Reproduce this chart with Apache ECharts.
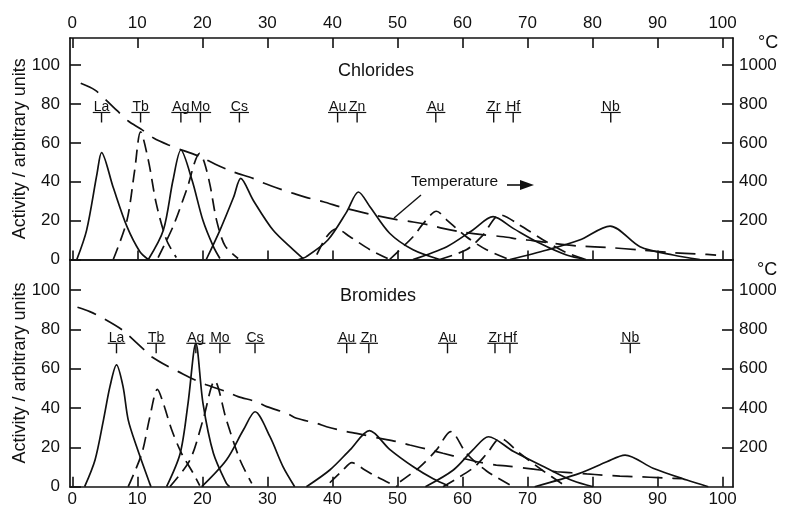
<!DOCTYPE html>
<html><head><meta charset="utf-8">
<script src="https://cdn.jsdelivr.net/npm/echarts@6/dist/echarts.min.js"></script>
<style>html,body{margin:0;padding:0;background:#fff}#c{width:785px;height:510px}</style>
</head><body><div id="c"></div>
<script>
// ---------- tick labels ----------
const xTicks = [0, 10, 20, 30, 40, 50, 60, 70, 80, 90, 100];
const yTicks = [0, 20, 40, 60, 80, 100];
const tTicks = [200, 400, 600, 800, 1000];

// ---------- element labels ----------
const clNames = ['La','Tb','Ag','Mo','Cs','Au','Zn','Au','Zr','Hf','Nb'];
const clNameX = [4.5,10.5,16.7,19.7,25.7,40.8,43.8,55.9,64.8,67.8,82.8];
const brNames = ['La','Tb','Ag','Mo','Cs','Au','Zn','Au','Zr','Hf','Nb'];
const brNameX = [6.8,12.9,19.0,22.7,28.1,42.2,45.6,57.7,65.0,67.3,85.8];

// ---------- Chlorides (top) ----------
const clLa = [[0.7,0],[2.2,15],[3.8,44],[4.5,55],[6.3,37],[8.4,17],[10.4,4],[11.7,0]];
const clTb = [[6.3,0],[8.4,20],[9.6,46],[10.5,65.7],[11.7,51],[12.9,29],[14.5,10],[16,1]];
const clAg = [[11.7,0],[14,15],[15.5,41],[16.7,56.3],[18.4,41],[20.1,20],[21.7,6.6],[22.7,0.5]];
const clMo = [[13.2,1],[15.5,17],[17.6,36],[19.6,54.6],[20.3,50],[21.2,38],[22.2,20],[23.5,7],[25.5,0.5]];
const clCs = [[20.6,0],[22.7,15],[24.8,32],[25.9,41.7],[27.8,30.6],[30.9,15],[34,5],[35.5,0.5]];
const clAu1 = [[37.6,2.5],[39.1,11.7],[40.6,15.8],[42.7,11.7],[45.8,5],[48.5,0.5]];
const clZn = [[34.8,0],[36,1.5],[39.3,10],[42.2,24.5],[44,34.7],[45.8,27],[48.8,13.5],[52.4,5],[56.5,0]];
const clAu2 = [[48.8,0],[52.4,11.7],[54,18.6],[56,24.8],[57.6,20.3],[60.6,11.7],[63.7,5],[66.8,0.5]];
const clZr = [[52.4,0],[57.6,6.6],[61.6,15.2],[64.7,22],[67.8,16],[71.9,8.3],[76,2.3],[79,0]];
const clHf = [[56.5,0],[60.6,5],[63,12],[65.8,22.9],[68.8,17.7],[72.9,9.1],[76,3.5],[79,0]];
const clNb = [[67.3,0],[73,4.9],[78,10],[82.7,17.2],[87.3,6.6],[92.4,2.3],[96.5,0]];
const clTemp = [[1.3,906],[3.5,871],[5.2,820],[6.9,765],[8.6,712],[10.7,668],[12.5,625],[14.8,589],[17.1,560],[19.6,530],[22,490],[24.7,451],[27.8,417],[29.3,395],[32.4,357],[34,340],[37,310],[38.6,297],[41.5,268],[43.2,254],[46.3,229],[49.9,205],[52.4,193],[55,177],[57,160],[59.6,143],[63,128],[66.3,117],[68.8,104],[70.8,97],[73.9,83],[78,69],[82.7,61],[87.3,49],[91.9,36],[96.5,28],[99,23]];

// ---------- Bromides (bottom) ----------
const brLa = [[1.9,0],[3.5,13.6],[4.8,34],[5.8,51],[6.8,61.9],[7.8,51],[8.6,34],[9.9,20.3],[11.9,1.7],[12.1,0]];
const brTb = [[8.6,0],[10.7,17],[11.9,35],[13.1,49.5],[14,42.4],[15.3,28.8],[16.8,17],[18.6,6.8],[19.6,0.5]];
const brAg = [[14.5,0],[16.6,17],[17.8,42.4],[19,73],[20.1,42.4],[21.7,17],[23.7,1.7],[24.2,0]];
const brMo = [[15,0],[18.1,13.6],[20.1,33.9],[21.9,53.8],[23.7,33.9],[25.8,13.6],[27.6,1.7]];
const brCs = [[19.9,0],[23.7,13.6],[26.3,28.8],[28.1,38.1],[30.4,25.4],[32.4,10.2],[34.2,0]];
const brZn = [[36,0],[39.6,8.5],[42.7,18.7],[45.7,28.5],[48.8,19],[52.5,10],[55.5,4],[57.8,0.5]];
const brAu1 = [[39.6,2],[41.5,8],[43,12.2],[45,8.5],[46.8,5.1],[49.3,1],[50,0]];
const brAu2 = [[50.4,2.5],[53.5,10.2],[56,18.7],[58.2,28],[60.6,17],[63.7,8],[67.8,0]];
const brZr = [[54.3,0],[58.6,8.5],[61.6,18.7],[64,25.4],[67.8,18],[72.9,9.5],[77,3],[80.1,0]];
const brHf = [[57,0],[61.6,9.4],[63.8,17],[65.8,24.6],[68.8,17],[72,9],[76,0]];
const brNb = [[71.1,0],[78,6.8],[82.2,12.7],[85,16.1],[89.3,9.4],[94.5,3.4],[97.8,0]];
const brTemp = [[0.8,912],[2.7,890],[5,851],[7.7,797],[8.6,771],[11.2,691],[12.2,661],[14.8,610],[16.3,585],[19.1,539],[20.7,517],[23.7,483],[25.5,458],[28.3,432],[29.9,407],[33,373],[34.5,348],[37.6,322],[39.1,305],[42.2,280],[43.7,271],[47.3,246],[49.9,229],[51.9,212],[55,187],[57,170],[60.1,144],[62.2,127],[65.2,110],[67,105],[69.9,93],[71.9,85],[74.5,76],[76.8,71],[79.1,65],[81.6,59],[84.2,54],[86.5,51],[88.8,48],[91.4,44],[93.7,41]];

// ---------- layout/styles ----------
const FONT = '"Liberation Sans", Arial, Helvetica, sans-serif';
const INK = '#111';
const PEAK_DASH = [13, 7];
const TEMP_DASH = [20, 10];
const LW = 1.7;

const grids = [
  {left: 70, right: 52, top: 38, height: 221.5},
  {left: 70, right: 52, top: 259.5, height: 227.2}
];
const yMaxTop = 113.9, yMaxBot = 115.5;

function xAx(grid, pos, showLabels, showTicks, tickLen) {
  return {
    type: 'value', gridIndex: grid, position: pos, min: -0.35, max: 101.6,
    axisLine: {show: true, onZero: false, lineStyle: {color: INK, width: 1.7}},
    axisTick: {show: showTicks, inside: true, length: tickLen, customValues: xTicks, lineStyle: {color: INK, width: 1.6}},
    axisLabel: {show: showLabels, customValues: xTicks, formatter: v => String(v), color: INK, fontSize: 17, fontFamily: FONT, margin: pos === 'top' ? 6 : 4},
    splitLine: {show: false}
  };
}
function yAx(grid, pos, max, ticks, name) {
  return {
    type: 'value', gridIndex: grid, position: pos, min: 0, max: max,
    name: name || '', nameLocation: 'middle', nameGap: 41, nameMoveOverlap: false,
    nameTextStyle: {color: INK, fontSize: 18, fontFamily: FONT},
    axisLine: {show: true, onZero: false, lineStyle: {color: INK, width: 1.7}},
    axisTick: {show: true, inside: true, length: 11, customValues: ticks, lineStyle: {color: INK, width: 1.6}},
    axisLabel: {show: true, customValues: ticks, formatter: v => String(v), color: INK, fontSize: 17, fontFamily: FONT, margin: pos === 'left' ? 10 : 6},
    splitLine: {show: false}
  };
}

function curve(data, dashed, xi, yi) {
  return {
    type: 'line', data: data, xAxisIndex: xi, yAxisIndex: yi, smooth: 0.3,
    showSymbol: false, symbol: 'none', silent: true, animation: false,
    lineStyle: {color: INK, width: LW, type: dashed ? PEAK_DASH : 'solid'}
  };
}
function temp(data, xi, yi) {
  return {
    type: 'line', data: data, xAxisIndex: xi, yAxisIndex: yi, smooth: 0.3,
    showSymbol: false, symbol: 'none', silent: true, animation: false,
    lineStyle: {color: INK, width: LW, type: TEMP_DASH}
  };
}

const measureCtx = document.createElement('canvas').getContext('2d');
measureCtx.font = '14px ' + FONT;
function labelSeries(xs, names, xi, yi, yLab) {
  return {
    type: 'custom', xAxisIndex: xi, yAxisIndex: yi, silent: true, animation: false,
    data: xs.map(v => [v]),
    renderItem: function (params, api) {
      const p = api.coord([api.value(0), yLab]);
      const name = names[params.dataIndex];
      const w = measureCtx.measureText(name).width;
      return {
        type: 'group',
        children: [
          {type: 'text', style: {text: name, x: p[0], y: p[1] + 2, align: 'center', verticalAlign: 'bottom', font: '14px ' + FONT, fill: INK}},
          {type: 'line', shape: {x1: p[0] - w / 2 - 1, y1: p[1], x2: p[0] + w / 2 + 1, y2: p[1]}, style: {stroke: INK, lineWidth: 1.2}},
          {type: 'line', shape: {x1: p[0], y1: p[1], x2: p[0], y2: p[1] + 10}, style: {stroke: INK, lineWidth: 1.4}}
        ]
      };
    }
  };
}

const series = [
  // top
  curve(clLa, false, 0, 0), curve(clTb, true, 0, 0), curve(clAg, false, 0, 0), curve(clMo, true, 0, 0),
  curve(clCs, false, 0, 0), curve(clAu1, true, 0, 0), curve(clZn, false, 0, 0), curve(clAu2, true, 0, 0),
  curve(clZr, false, 0, 0), curve(clHf, true, 0, 0), curve(clNb, false, 0, 0),
  temp(clTemp, 0, 1),
  labelSeries(clNameX, clNames, 0, 0, 75.6),
  // bottom
  curve(brLa, false, 2, 2), curve(brTb, true, 2, 2), curve(brAg, false, 2, 2), curve(brMo, true, 2, 2),
  curve(brCs, false, 2, 2), curve(brZn, false, 2, 2), curve(brAu1, true, 2, 2), curve(brAu2, true, 2, 2),
  curve(brZr, false, 2, 2), curve(brHf, true, 2, 2), curve(brNb, false, 2, 2),
  temp(brTemp, 2, 3),
  labelSeries(brNameX, brNames, 2, 2, 72.9)
];

const chart = echarts.init(document.getElementById('c'), null, {renderer: 'canvas'});
chart.setOption({
  backgroundColor: '#fff',
  animation: false,
  grid: grids,
  xAxis: [
    xAx(0, 'bottom', false, true, 9),
    xAx(0, 'top', true, true, 10),
    xAx(1, 'bottom', true, true, 10),
    xAx(1, 'top', false, false, 0)
  ],
  yAxis: [
    yAx(0, 'left', yMaxTop, yTicks, 'Activity / arbitrary units'),
    yAx(0, 'right', yMaxTop * 10, tTicks),
    yAx(1, 'left', yMaxBot, yTicks, 'Activity / arbitrary units'),
    yAx(1, 'right', yMaxBot * 10, tTicks)
  ],
  series: series,
  graphic: [
    {type: 'text', left: 338, top: 62, style: {text: 'Chlorides', font: '18px ' + FONT, fill: INK}},
    {type: 'text', left: 340, top: 287, style: {text: 'Bromides', font: '18px ' + FONT, fill: INK}},
    {type: 'text', left: 758, top: 34, style: {text: '°C', font: '18px ' + FONT, fill: INK}},
    {type: 'text', left: 757, top: 261, style: {text: '°C', font: '18px ' + FONT, fill: INK}},
    {type: 'text', left: 411, top: 174, style: {text: 'Temperature', font: '15.5px ' + FONT, fill: INK}},
    {type: 'line', shape: {x1: 507, y1: 185, x2: 522, y2: 185}, style: {stroke: INK, lineWidth: 1.6}},
    {type: 'polygon', shape: {points: [[520, 180], [534, 185], [520, 190]]}, style: {fill: INK}},
    {type: 'line', shape: {x1: 421, y1: 195, x2: 394, y2: 218}, style: {stroke: INK, lineWidth: 1.4}}
  ]
});
</script></body></html>
